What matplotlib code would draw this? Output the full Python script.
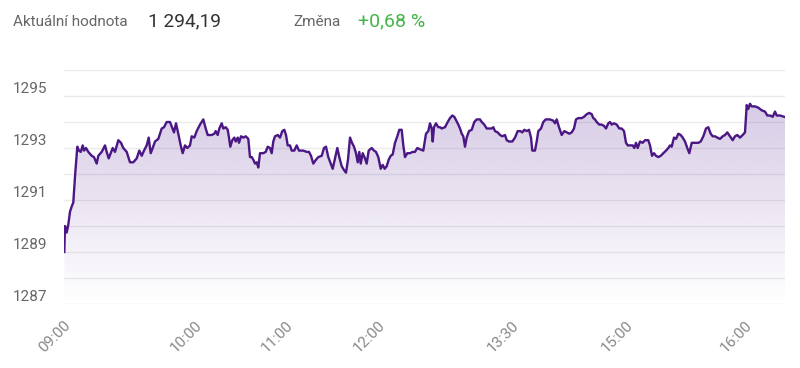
import numpy as np
import matplotlib
matplotlib.use("Agg")
import matplotlib.pyplot as plt
from matplotlib.colors import to_rgb

plt.rcParams.update({"font.family": ["Roboto", "DejaVu Sans"], "font.size": 10})

# ── data: trade sequence position vs index level ──
pos = [
    0.3, 1, 2.7, 4.3, 6, 7.7, 9.3, 11, 13.3, 15,
    16.7, 18.7, 20, 22, 24.3, 27.7, 30, 32.7, 34.3, 37.7,
    41, 42.7, 44.7, 46.7, 48.7, 51, 54.3, 57, 59.3, 62.7,
    66, 69.3, 72.7, 75.3, 77.7, 80, 82.7, 84.7, 86.7, 88.7,
    91, 94.3, 97.7, 100, 102.7, 106, 108, 110, 112, 114.3,
    116.7, 118.7, 121, 123.3, 126,
    127.7, 130.3, 132.7, 136, 139.3, 141.7, 143.7, 147.7, 150.3, 151.7,
    153.7, 155.3, 157.7, 159.3, 161.7, 163.7, 165, 166.3, 168.3, 170.3,
    171.7, 173.7, 175, 177, 179.3, 181.7, 184.3, 186, 187.7, 189.3,
    191, 192.7, 194.3, 196, 199.3, 201.7, 203.7, 206, 207.7, 209.3,
    211, 213.7, 216, 218.3, 220.3, 222, 223.7, 226, 227.7, 230.3,
    232.7, 235, 239.3, 242.7, 245, 247, 249.3,
    252, 254.3, 257.7, 260, 262, 264.3, 266.7, 268.7, 271, 273.3,
    275.3, 277.7, 280, 282, 284, 286, 288, 290, 292, 293.7,
    295.3, 296.7, 298.7, 301, 302.7, 304.7, 307.7, 310, 312, 314.3,
    316.7, 318.7, 320.7, 322.7, 324.7, 326.7, 328.7, 331, 333.3, 335.3,
    337.7, 339.3, 341, 343.3, 346, 348.7, 351, 353.3, 356, 359.3,
    362, 364.3, 366, 367.7, 368.7, 370, 372, 374.3,
    376, 377.7, 381, 383.7, 386, 388.3, 390.3, 391.7, 393.7, 396,
    397.7, 399.3, 401, 402.7, 405, 407.7, 410.3, 412.7, 416, 417.7,
    420.3, 422.7, 427.7, 429.3, 431, 433.7, 436, 438.3, 441, 442.7,
    445, 448.3, 451, 453.7, 456.3, 458.3, 460.3, 462.7, 465, 467,
    468.3, 471, 472.7, 474.3, 477, 479.3, 481.7, 486, 489.3, 491,
    492.7, 495, 497.7, 500.3,
    502.7, 505.3, 507.7, 510, 512, 514.3, 517.7, 520, 522.7, 525.3,
    527.7, 529.3, 531, 532.7, 535.3, 537.7, 540, 542, 544.3, 546,
    547.7, 550, 552.7, 555.3, 557.7, 560, 562, 563.7, 566.7, 568.7,
    570.3, 572, 573.7, 576, 578.7, 581, 584.3, 586, 588, 590,
    592, 594.3, 596.7, 599.3, 602, 604.3, 606, 607.7, 610, 612,
    614.3, 616.7, 618.7, 621, 623.3, 625.3,
    627.7, 631, 634.3, 636.7, 639.3, 642, 644.3, 646.7, 648.7, 651,
    653.3, 656, 658.7, 661, 663.3, 666, 668.7, 671, 673.3, 676,
    678.7, 681, 682.7, 684.3, 686, 687.7, 691, 694.3, 697.7, 701,
    703.3, 706, 708.7, 711, 712.7, 716, 721,
]
level = [
    1289.0, 1290.0, 1289.75, 1290.05, 1290.55, 1290.75, 1290.9, 1291.9, 1293.05, 1292.9,
    1292.85, 1293.1, 1292.9, 1293.0, 1292.85, 1292.7, 1292.65, 1292.4, 1292.7, 1292.85,
    1293.1, 1292.85, 1292.6, 1292.8, 1293.0, 1292.85, 1293.3, 1293.2, 1293.0, 1292.85,
    1292.45, 1292.45, 1292.6, 1292.9, 1292.7, 1292.9, 1293.1, 1293.4, 1292.8, 1293.0,
    1293.25, 1293.35, 1293.75, 1293.8, 1294.0, 1294.0, 1293.8, 1293.6, 1293.95, 1293.55,
    1293.1, 1292.8, 1293.1, 1293.0, 1293.1,
    1293.45, 1293.4, 1293.65, 1293.9, 1294.1, 1293.75, 1293.5, 1293.5, 1293.55, 1293.65,
    1293.5, 1293.75, 1293.95, 1293.75, 1293.8, 1293.7, 1293.4, 1293.05, 1293.3, 1293.4,
    1293.25, 1293.4, 1293.2, 1293.45, 1293.4, 1293.45, 1293.35, 1292.65, 1292.65, 1292.55,
    1292.4, 1292.45, 1292.25, 1292.8, 1292.8, 1292.85, 1293.05, 1293.0, 1292.8, 1293.25,
    1293.45, 1293.5, 1293.4, 1293.65, 1293.7, 1293.5, 1293.1, 1293.1, 1292.9, 1292.9,
    1293.1, 1292.9, 1292.9, 1292.85, 1292.85, 1292.7, 1292.4,
    1292.55, 1292.65, 1292.7, 1293.0, 1293.05, 1292.65, 1292.4, 1292.2, 1292.6, 1293.0,
    1292.65, 1292.3, 1292.15, 1292.05, 1292.55, 1293.4, 1293.2, 1293.05, 1292.8, 1292.45,
    1292.85, 1292.4, 1292.8, 1292.6, 1292.4, 1292.9, 1293.0, 1292.9, 1292.85, 1292.65,
    1292.2, 1292.35, 1292.2, 1292.3, 1292.55, 1292.7, 1292.75, 1293.2, 1293.45, 1293.7,
    1293.7, 1293.1, 1292.65, 1292.8, 1292.8, 1292.85, 1292.85, 1293.0, 1292.95, 1292.9,
    1293.55, 1293.65, 1293.95, 1293.75, 1293.25, 1293.8, 1293.95, 1293.8,
    1293.8, 1293.75, 1293.8, 1294.0, 1294.15, 1294.25, 1294.2, 1294.1, 1293.95, 1293.75,
    1293.55, 1293.45, 1293.05, 1293.4, 1293.65, 1293.7, 1294.0, 1294.1, 1294.1, 1294.0,
    1293.9, 1293.75, 1293.75, 1293.8, 1293.65, 1293.6, 1293.5, 1293.45, 1293.5, 1293.3,
    1293.25, 1293.25, 1293.4, 1293.65, 1293.65, 1293.6, 1293.7, 1293.65, 1293.7, 1293.4,
    1292.9, 1292.9, 1293.25, 1293.65, 1293.75, 1294.0, 1294.1, 1294.1, 1294.05, 1293.95,
    1294.1, 1293.8, 1293.5, 1293.65,
    1293.6, 1293.55, 1293.6, 1293.75, 1294.1, 1294.15, 1294.15, 1294.2, 1294.3, 1294.35,
    1294.3, 1294.15, 1294.1, 1294.0, 1293.9, 1293.9, 1293.85, 1293.75, 1293.95, 1294.0,
    1293.9, 1293.95, 1293.9, 1293.75, 1293.75, 1293.65, 1293.2, 1293.1, 1293.1, 1293.1,
    1293.0, 1293.2, 1293.0, 1293.25, 1293.2, 1293.3, 1293.3, 1293.1, 1292.7, 1292.8,
    1292.7, 1292.65, 1292.7, 1292.8, 1292.9, 1293.0, 1293.1, 1293.05, 1293.4, 1293.35,
    1293.55, 1293.5, 1293.4, 1293.25, 1293.0, 1292.8,
    1293.2, 1293.2, 1293.2, 1293.25, 1293.45, 1293.75, 1293.8, 1293.55, 1293.45, 1293.45,
    1293.4, 1293.35, 1293.45, 1293.5, 1293.6, 1293.45, 1293.3, 1293.45, 1293.5, 1293.4,
    1293.5, 1293.6, 1294.65, 1294.5, 1294.7, 1294.6, 1294.6, 1294.55, 1294.45, 1294.4,
    1294.25, 1294.25, 1294.2, 1294.4, 1294.25, 1294.25, 1294.19,
]
assert len(pos) == len(level)

tick_pos = [4, 135.5, 227, 319, 453, 566.5, 686]
tick_lbl = ["09:00", "10:00", "11:00", "12:00", "13:30", "15:00", "16:00"]

current_txt = "1 294,19"
change_txt = "+0,68 %"

Y_MIN, Y_MAX = 1287, 1296
C_LINE = "#4b1784"
C_FILL = "#6a3fa0"

fig = plt.figure(figsize=(8, 3.68), dpi=100)
ax = fig.add_axes([64 / 800, 1 - 304 / 368, 721 / 800, (304 - 70) / 368])

ax.plot(pos, level, color=C_LINE, lw=1.7, zorder=3, solid_joinstyle="round")

# gradient fill under the line
fb = ax.fill_between(pos, level, Y_MIN, color="none", lw=0)
grad = np.zeros((256, 1, 4))
grad[..., :3] = to_rgb(C_FILL)
grad[..., 3] = np.linspace(0.0, 0.27, 256).reshape(-1, 1)
im = ax.imshow(grad, extent=[pos[0], pos[-1], Y_MIN, max(level)], origin="lower",
               aspect="auto", zorder=1, interpolation="bilinear")
im.set_clip_path(fb.get_paths()[0], transform=ax.transData)

ax.set_xlim(0, pos[-1])
ax.set_ylim(Y_MIN, Y_MAX)

ax.set_yticks(range(Y_MIN, Y_MAX, 2))
ax.set_yticks(range(Y_MIN + 1, Y_MAX + 1, 2), minor=True)
ax.grid(which="both", axis="y", color="#ebebeb", lw=1)
ax.set_axisbelow(True)
ax.tick_params(axis="y", which="both", length=0, pad=37, labelcolor="#666666", labelsize=11)
for t in ax.get_yticklabels():
    t.set_horizontalalignment("left")
    t.set_verticalalignment("bottom")

ax.set_xticks(tick_pos)
ax.set_xticklabels(tick_lbl, rotation=45, ha="right", va="center",
                   rotation_mode="anchor", color="#888888", fontsize=11)
ax.tick_params(axis="x", length=0, pad=14)

for s in ax.spines.values():
    s.set_visible(False)

# header
fig.text(13 / 800, 1 - 26 / 368, "Aktuální hodnota", color="#666666", fontsize=11, va="baseline")
fig.text(148 / 800, 1 - 26 / 368, current_txt, color="#333333", fontsize=13.8, va="baseline")
fig.text(293 / 800, 1 - 26 / 368, "Změna", color="#666666", fontsize=11, va="baseline")
fig.text(358 / 800, 1 - 26 / 368, change_txt, color="#43b649", fontsize=14, va="baseline")

fig.savefig("out.png", dpi=100)
